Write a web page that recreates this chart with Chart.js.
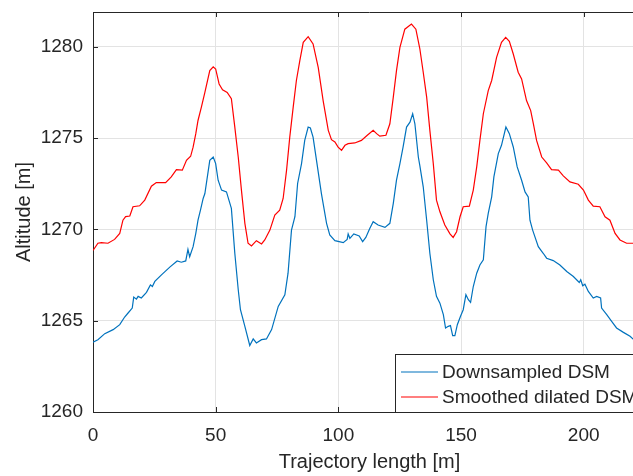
<!DOCTYPE html>
<html>
<head>
<meta charset="utf-8">
<script src="https://cdn.jsdelivr.net/npm/chart.js@4.4.1/dist/chart.umd.min.js"></script>
<style>
  html, body { margin: 0; padding: 0; background: #fff; overflow: hidden; }
  #wrap { width: 633px; height: 476px; overflow: hidden; }
</style>
</head>
<body>
<div id="wrap"><canvas id="myChart" width="660" height="476"></canvas></div>
<script>
// Perfil de altitud a lo largo de la trayectoria
const distBlue = [0, 2.0, 4.8, 8.2, 10.9, 12.9, 14.3, 16.0, 16.6, 17.7, 18.4, 19.7, 21.8, 23.4, 24.2, 25.2, 27.9, 31.3, 34.3, 36.0, 37.8, 38.7, 39.4, 40.8, 41.9, 42.8, 43.8, 44.9,
  45.6, 47.6, 49.0, 50.0, 51.0, 52.4, 54.4, 56.4, 57.8, 59.2, 60.1, 61.9, 63.9, 65.3, 66.6, 68.7, 70.7, 72.8, 75.5, 78.2, 79.5, 80.9, 82.3, 83.4, 85.0, 86.3, 87.7,
  88.6, 89.7, 91.1, 93.1, 95.2, 96.5, 98.6, 102.0, 103.6, 104.0, 104.7, 106.3, 108.5, 109.9, 111.2, 112.8, 114.2, 116.2, 119.0, 121.0, 122.4, 123.7, 125.1, 126.4, 127.8, 129.2, 130.3, 131.2, 132.6,
  133.2, 134.6, 136.0, 137.3, 138.7, 140.0, 141.4, 142.8, 143.7, 144.8, 145.7, 146.6, 147.5, 148.5, 149.8, 150.9, 152.0, 153.0, 153.9, 155.0, 156.4, 157.7, 159.1, 160.2, 161.1, 162.5, 163.4, 165.2, 166.5, 168.3, 169.7, 171.3, 172.9, 174.7, 176.1, 177.4, 178.1, 179.2,
  181.5, 183.5, 184.9, 187.6, 190.3, 193.1, 195.8, 198.2, 198.8, 199.6, 200.5, 201.9, 203.9, 205.3, 206.9, 207.3, 209.4, 211.4, 213.4, 216.2, 218.9, 220.5];
const altBlue = [1263.82, 1263.96, 1264.29, 1264.51, 1264.78, 1265.2, 1265.42, 1265.69, 1266.29, 1266.18, 1266.33, 1266.24, 1266.55, 1266.96, 1266.87, 1267.15, 1267.51, 1267.93, 1268.27, 1268.2, 1268.27, 1268.9, 1268.5, 1269.05, 1269.78, 1270.5, 1271.05, 1271.69,
  1271.96, 1273.78, 1273.96, 1273.6, 1272.69, 1272.15, 1272.05, 1271.15, 1268.69, 1266.69, 1265.6, 1264.69, 1263.64, 1264.0, 1263.78, 1263.96, 1264.0, 1264.51, 1265.78, 1266.42, 1267.6, 1269.96, 1270.69, 1272.51, 1273.6, 1274.87, 1275.6,
  1275.55, 1275.05, 1273.78, 1271.96, 1270.33, 1269.69, 1269.38, 1269.27, 1269.45, 1269.75, 1269.51, 1269.75, 1269.64, 1269.33, 1269.56, 1270.05, 1270.42, 1270.24, 1270.11, 1270.33, 1271.42, 1272.69, 1273.6, 1274.51, 1275.6, 1275.87, 1276.33, 1275.78, 1273.96,
  1273.5, 1272.33, 1270.5, 1268.69, 1267.24, 1266.33, 1265.96, 1265.33, 1264.6, 1264.69, 1264.73, 1264.18, 1264.18, 1264.78, 1265.24, 1265.6, 1266.42, 1266.15, 1266.0, 1266.87, 1267.6, 1268.05, 1268.33, 1270.15, 1270.87, 1271.78, 1272.87, 1274.15, 1274.6, 1275.6, 1275.24, 1274.51, 1273.42, 1272.69, 1272.05, 1271.78, 1270.5, 1269.96,
  1269.05, 1268.69, 1268.42, 1268.29, 1268.05, 1267.69, 1267.42, 1267.09, 1267.24, 1266.91, 1267.0, 1266.6, 1266.24, 1266.33, 1266.24, 1265.69, 1265.33, 1264.96, 1264.6, 1264.36, 1264.15, 1263.95];

const distRed = [0, 2.0, 3.4, 6.1, 8.8, 10.9, 12.2, 13.3, 15.0, 16.3, 19.0, 21.1, 23.8, 25.8, 29.6, 31.9, 34.0, 36.4, 38.1, 39.8, 40.8, 41.9, 42.8, 44.2,
  45.6, 47.6, 49.0, 50.0, 51.4, 52.8, 54.7, 56.4, 57.8, 59.2, 60.5, 61.9, 63.2, 64.6, 66.6, 68.7, 70.0, 72.1, 74.1, 76.1, 77.5, 78.9, 80.2, 81.6, 82.9, 84.3, 85.7, 87.7,
  89.7, 91.8, 93.8, 95.9, 97.2, 98.6, 99.9, 101.3, 102.7, 104.0, 106.7, 109.4, 111.8, 114.2, 115.6, 116.9, 119.4, 121.0, 122.4, 123.7, 125.1, 127.1, 129.8, 131.6, 133.2,
  134.6, 136.0, 137.3, 138.7, 140.0, 141.4, 143.4, 145.5, 146.8, 148.2, 149.6, 150.9, 153.4, 155.0, 156.4, 157.7, 159.1, 161.1, 162.5, 164.5, 166.5, 168.2, 169.7, 171.3, 173.3, 174.7, 176.7, 178.4,
  179.5, 180.8, 182.9, 184.9, 186.9, 189.7, 191.7, 194.4, 197.8, 199.9, 201.9, 203.9, 206.6, 208.7, 210.7, 212.8, 214.8, 217.5, 220.5];
const altRed = [1268.84, 1269.24, 1269.27, 1269.24, 1269.45, 1269.78, 1270.5, 1270.7, 1270.73, 1271.24, 1271.29, 1271.6, 1272.36, 1272.56, 1272.56, 1272.87, 1273.27, 1273.24, 1273.78, 1274.0, 1274.5, 1275.24, 1275.96, 1276.7,
  1277.5, 1278.69, 1278.9, 1278.78, 1277.96, 1277.64, 1277.5, 1277.15, 1275.6, 1273.96, 1272.15, 1270.33, 1269.24, 1269.09, 1269.38, 1269.2, 1269.42, 1269.96, 1270.78, 1271.05, 1271.69, 1273.24, 1275.05, 1276.69, 1278.15, 1279.24, 1280.24, 1280.55,
  1280.15, 1278.87, 1277.05, 1275.42, 1274.91, 1274.78, 1274.5, 1274.33, 1274.6, 1274.69, 1274.73, 1274.87, 1275.15, 1275.42, 1275.24, 1275.1, 1275.15, 1275.78, 1277.24, 1278.69, 1279.96, 1280.96, 1281.24, 1280.96, 1279.9,
  1278.6, 1277.24, 1275.42, 1273.6, 1271.6, 1270.96, 1270.24, 1269.75, 1269.56, 1269.87, 1270.69, 1271.24, 1271.27, 1272.15, 1273.42, 1274.87, 1276.33, 1277.6, 1278.15, 1279.42, 1280.24, 1280.51, 1280.29, 1279.6, 1278.6, 1278.24, 1277.05, 1276.5,
  1275.78, 1274.87, 1273.96, 1273.64, 1273.27, 1273.24, 1272.93, 1272.6, 1272.47, 1272.15, 1271.6, 1271.27, 1271.24, 1270.69, 1270.5, 1269.78, 1269.42, 1269.24, 1269.24];

const seriesNames = ['Downsampled DSM', 'Smoothed dilated DSM'];
const seriesColors = ['#0072BD', '#FF0000'];
const xTicks = [0, 50, 100, 150, 200];
const yTicks = [1260, 1265, 1270, 1275, 1280];

const textColor = '#262626';
const fontName = "'Liberation Sans', Arial, sans-serif";

function toPoints(xs, ys) {
    return xs.map((v, i) => ({ x: v, y: ys[i] }));
}

// Marco superior, ticks hacia dentro y leyenda estilo MATLAB
const matlabExtras = {
    id: 'matlabExtras',
    afterDraw(chart) {
        const { ctx, chartArea: a, scales } = chart;
        ctx.save();
        ctx.strokeStyle = textColor;
        ctx.lineWidth = 1;
        ctx.beginPath();
        ctx.moveTo(a.left, Math.round(a.top) + 0.5);
        ctx.lineTo(a.right, Math.round(a.top) + 0.5);
        scales.x.ticks.forEach(t => {
            const px = Math.round(scales.x.getPixelForValue(t.value)) + 0.5;
            ctx.moveTo(px, a.bottom);
            ctx.lineTo(px, a.bottom - 5);
            ctx.moveTo(px, a.top);
            ctx.lineTo(px, a.top + 5);
        });
        scales.y.ticks.forEach(t => {
            const py = Math.round(scales.y.getPixelForValue(t.value)) + 0.5;
            ctx.moveTo(a.left, py);
            ctx.lineTo(a.left + 5, py);
        });
        ctx.stroke();

        // leyenda
        const boxL = 395.5, boxT = 354.5, boxR = a.right - 6, boxB = Math.round(a.bottom) + 0.5;
        ctx.fillStyle = '#ffffff';
        ctx.fillRect(boxL, boxT, boxR - boxL, boxB - boxT);
        ctx.strokeStyle = textColor;
        ctx.strokeRect(boxL, boxT, boxR - boxL, boxB - boxT);
        ctx.font = '19px ' + fontName;
        ctx.textBaseline = 'middle';
        ctx.textAlign = 'left';
        seriesNames.forEach((name, i) => {
            const yy = 372 + i * 25;
            ctx.strokeStyle = seriesColors[i];
            ctx.lineWidth = 1.2;
            ctx.beginPath();
            ctx.moveTo(401, yy);
            ctx.lineTo(438, yy);
            ctx.stroke();
            ctx.fillStyle = textColor;
            ctx.fillText(name, 442, yy + 1);
        });
        ctx.restore();
    }
};

const ctx = document.getElementById('myChart').getContext('2d');
new Chart(ctx, {
    type: 'line',
    data: {
        datasets: [
            {
                label: seriesNames[0],
                data: toPoints(distBlue, altBlue),
                borderColor: seriesColors[0],
                borderWidth: 1.2,
                pointRadius: 0,
                tension: 0,
                fill: false
            },
            {
                label: seriesNames[1],
                data: toPoints(distRed, altRed),
                borderColor: seriesColors[1],
                borderWidth: 1.2,
                pointRadius: 0,
                tension: 0,
                fill: false
            }
        ]
    },
    options: {
        responsive: false,
        animation: false,
        layout: { padding: { top: 12, right: 14, left: 0, bottom: 0 } },
        plugins: {
            legend: { display: false },
            tooltip: { enabled: false }
        },
        scales: {
            x: {
                type: 'linear',
                min: 0,
                max: 225.4,
                afterFit: s => { s.height = 64; s.paddingLeft = 0; s.paddingRight = 0; },
                afterBuildTicks: s => { s.ticks = xTicks.map(v => ({ value: v })); },
                ticks: { color: textColor, font: { family: fontName, size: 19 }, padding: 12, includeBounds: false, callback: v => String(v) },
                grid: { color: '#e3e3e3', drawTicks: false },
                border: { color: textColor },
                title: { display: true, text: 'Trajectory length [m]', color: textColor, font: { family: fontName, size: 20 }, padding: { top: 0, bottom: 2 } }
            },
            y: {
                min: 1260,
                max: 1281.9,
                afterFit: s => { s.width = 93; s.paddingTop = 0; s.paddingBottom = 0; },
                afterBuildTicks: s => { s.ticks = yTicks.map(v => ({ value: v })); },
                ticks: { color: textColor, font: { family: fontName, size: 19 }, padding: 10, includeBounds: false, callback: v => String(v) },
                grid: { color: '#e3e3e3', drawTicks: false },
                border: { color: textColor },
                title: { display: true, text: 'Altitude [m]', color: textColor, font: { family: fontName, size: 20 }, padding: { top: 12, bottom: 0 } }
            }
        }
    },
    plugins: [matlabExtras]
});
</script>
</body>
</html>
